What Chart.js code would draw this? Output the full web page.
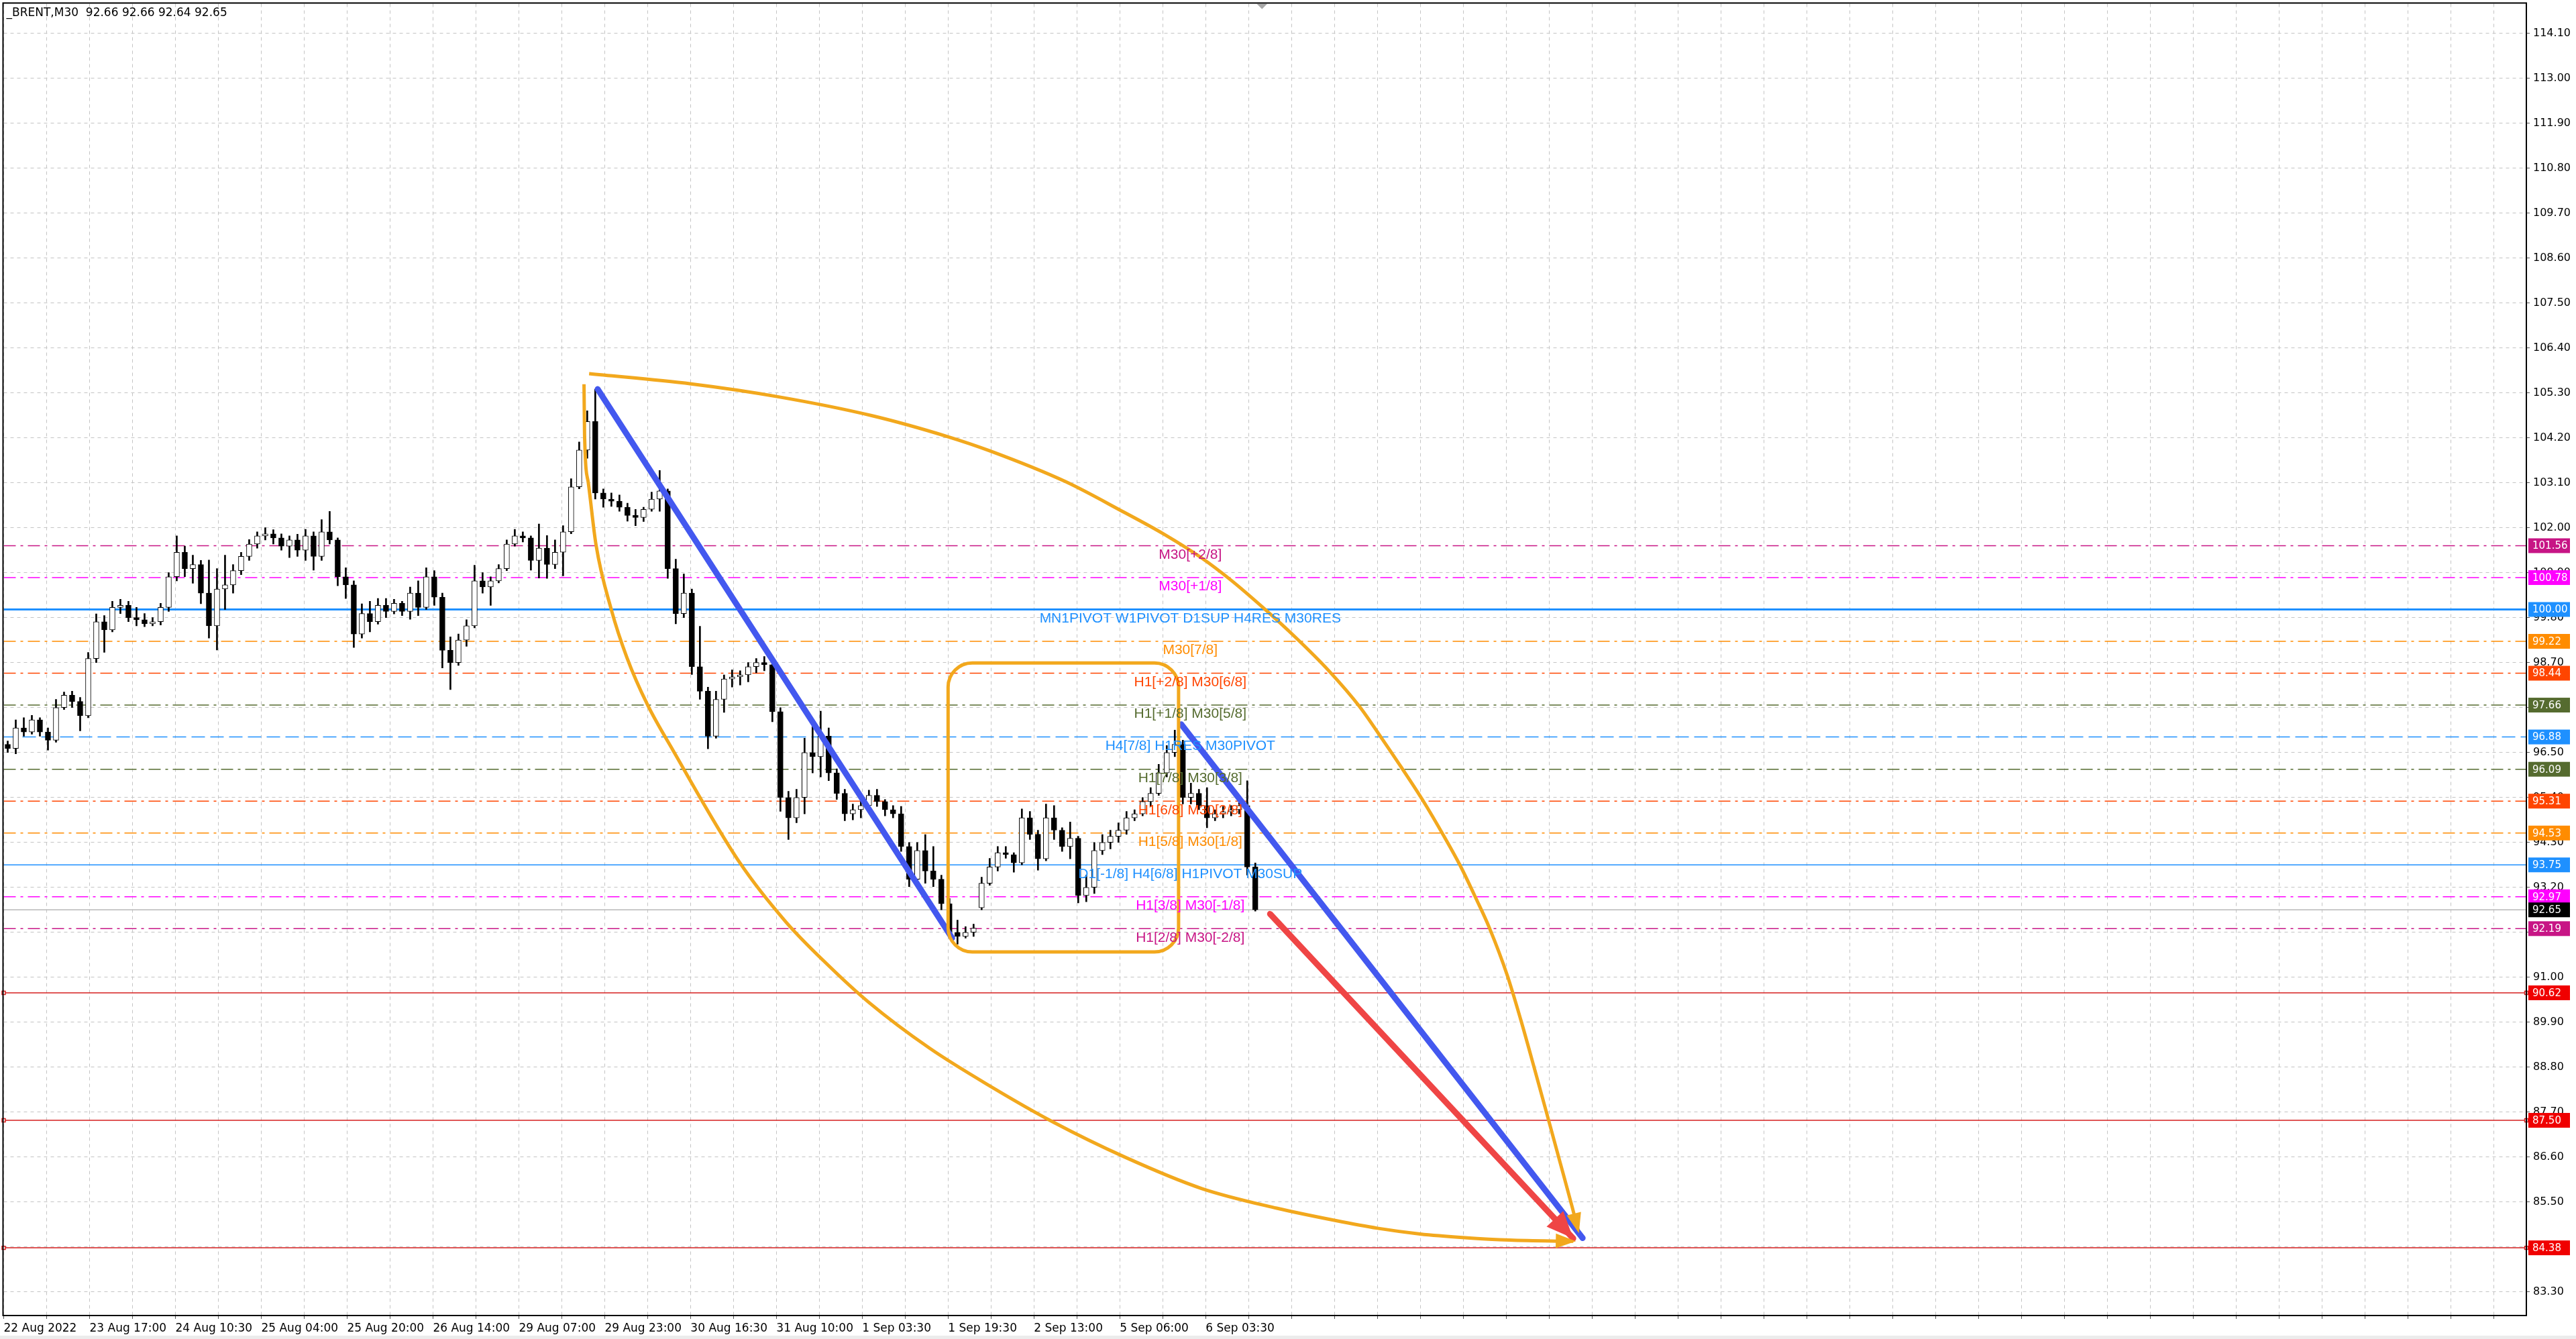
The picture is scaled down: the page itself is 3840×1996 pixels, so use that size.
<!DOCTYPE html>
<html>
<head>
  <title>_BRENT,M30</title>
  <script src="https://cdn.jsdelivr.net/npm/chart.js"></script>
  <style>
    html, body { margin: 0; padding: 0; background: #fff; overflow: hidden; }
    canvas { display: block; }
  </style>
</head>
<body>
  <canvas id="chart" width="3840" height="1996"></canvas>
  <script>
    // price axis ticks and time labels (one time label every 32 M30 bars)
    const yTicks = [114.10, 113.00, 111.90, 110.80, 109.70, 108.60, 107.50, 106.40, 105.30, 104.20,
      103.10, 102.00, 100.90, 99.80, 98.70, 97.60, 96.50, 95.40, 94.30, 93.20, 92.10, 91.00,
      89.90, 88.80, 87.70, 86.60, 85.50, 84.40, 83.30];
    const timeLabels = ['22 Aug 2022', '23 Aug 17:00', '24 Aug 10:30', '25 Aug 04:00', '25 Aug 20:00',
      '26 Aug 14:00', '29 Aug 07:00', '29 Aug 23:00', '30 Aug 16:30', '31 Aug 10:00', '1 Sep 03:30',
      '1 Sep 19:30', '2 Sep 13:00', '5 Sep 06:00', '6 Sep 03:30'];

    // candles, each one covers 3 bars of the picture
    const opens = [96.70, 96.60, 97.10, 97.00, 97.30, 97.00, 96.80, 97.60, 97.90, 97.75,
      97.40, 98.80, 99.70, 99.50, 100.05, 100.10, 99.80, 99.75, 99.65, 99.70,
      100.05, 100.80, 101.40, 101.00, 101.10, 100.40, 99.60, 100.50, 100.60, 100.95,
      101.30, 101.60, 101.80, 101.85, 101.75, 101.55, 101.70, 101.45, 101.80, 101.30,
      101.90, 101.70, 100.80, 100.60, 99.40, 99.90, 99.70, 100.10, 99.95, 100.15,
      99.95, 100.40, 100.05, 100.80, 100.30, 99.00, 98.70, 99.25, 99.60, 100.70,
      100.55, 100.70, 101.00, 101.60, 101.80, 101.75, 101.20, 101.50, 101.10, 101.40,
      101.90, 103.00, 103.90, 104.60, 102.85, 102.70, 102.65, 102.50, 102.30, 102.25,
      102.45, 102.70, 102.90, 101.00, 99.90, 100.40, 98.60, 98.00, 96.90, 97.80,
      98.30, 98.35, 98.40, 98.60, 98.70, 98.65, 97.50, 95.40, 94.90, 95.40,
      96.50, 96.40, 96.90, 96.00, 95.50, 95.00, 95.10, 95.20, 95.45, 95.30,
      95.10, 95.00, 94.20, 93.40, 94.10, 93.60, 93.40, 92.80, 92.10, 92.00,
      92.10, 92.70, 93.30, 93.70, 94.05, 94.00, 93.80, 94.90, 94.50, 93.90,
      94.90, 94.60, 94.20, 94.40, 93.00, 93.20, 94.10, 94.30, 94.45, 94.60,
      94.90, 95.00, 95.30, 95.50, 96.00, 96.50, 96.70, 95.40, 95.50, 95.20,
      94.90, 95.00, 95.05, 95.10, 95.20, 93.70];
    const highs = [96.78, 97.30, 97.35, 97.41, 97.35, 97.10, 97.80, 97.98, 98.00, 97.85,
      98.95, 99.89, 99.85, 100.20, 100.25, 100.20, 100.05, 99.90, 99.80, 100.15,
      100.90, 101.80, 101.55, 101.33, 101.20, 101.21, 101.00, 101.33, 101.10, 101.40,
      101.71, 101.90, 102.00, 101.95, 101.85, 101.80, 101.84, 101.96, 101.90, 102.20,
      102.40, 101.75, 101.02, 100.70, 100.14, 100.20, 100.27, 100.27, 100.25, 100.20,
      100.55, 100.70, 101.02, 100.95, 100.40, 99.33, 99.40, 99.75, 101.08, 100.90,
      100.80, 101.10, 101.70, 101.96, 101.90, 101.80, 102.09, 101.81, 101.70, 102.05,
      103.20, 104.10, 104.86, 105.39, 102.95, 102.85, 102.80, 102.60, 102.45, 102.50,
      102.87, 103.40, 102.95, 101.23, 100.87, 100.50, 99.59, 98.10, 98.00, 98.40,
      98.52, 98.50, 98.70, 98.80, 98.85, 98.75, 97.60, 95.55, 95.60, 96.85,
      97.25, 97.51, 97.10, 96.10, 95.60, 95.24, 95.30, 95.58, 95.60, 95.35,
      95.20, 95.18, 94.30, 94.30, 94.49, 94.20, 93.50, 92.93, 92.40, 92.24,
      92.30, 93.45, 93.91, 94.20, 94.20, 94.05, 95.12, 95.06, 94.60, 95.24,
      95.20, 94.66, 94.80, 94.45, 93.50, 94.30, 94.49, 94.60, 94.78, 95.06,
      95.10, 95.40, 95.64, 96.21, 96.67, 97.05, 96.80, 95.75, 95.60, 95.64,
      95.10, 95.18, 95.20, 95.30, 95.81, 93.80];
    const lows = [96.50, 96.47, 96.90, 96.95, 96.90, 96.56, 96.75, 97.55, 97.60, 97.03,
      97.35, 98.70, 98.95, 99.45, 99.90, 99.70, 99.60, 99.58, 99.60, 99.62,
      99.95, 100.70, 100.80, 100.64, 100.14, 99.30, 99.01, 100.00, 100.40, 100.85,
      101.20, 101.50, 101.70, 101.60, 101.45, 101.27, 101.30, 101.20, 100.96, 101.20,
      101.60, 100.58, 100.27, 99.07, 99.30, 99.45, 99.64, 99.80, 99.89, 99.85,
      99.76, 99.85, 100.00, 100.10, 98.57, 98.04, 98.63, 99.10, 99.55, 100.40,
      100.10, 100.65, 100.95, 101.55, 101.65, 100.96, 100.77, 100.76, 101.00, 100.82,
      101.85, 102.95, 103.70, 102.70, 102.50, 102.52, 102.40, 102.16, 102.05, 102.15,
      102.40, 102.40, 100.76, 99.65, 99.80, 98.41, 97.80, 96.59, 96.85, 97.48,
      98.10, 98.15, 98.23, 98.45, 98.50, 97.25, 95.06, 94.37, 94.78, 95.00,
      96.00, 95.90, 95.81, 95.35, 94.83, 94.85, 94.90, 95.10, 95.18, 94.95,
      94.90, 94.08, 93.22, 93.20, 93.30, 93.22, 92.65, 91.96, 91.81, 91.96,
      92.00, 92.65, 93.25, 93.60, 93.91, 93.57, 93.75, 94.37, 93.62, 93.85,
      94.37, 94.08, 93.90, 92.82, 92.85, 93.05, 94.00, 94.14, 94.30, 94.50,
      94.83, 94.95, 95.18, 95.45, 95.90, 96.40, 95.24, 95.24, 95.10, 94.66,
      94.83, 94.90, 94.95, 95.00, 93.50, 92.62];
    const closes = [96.60, 97.10, 97.00, 97.30, 97.00, 96.80, 97.60, 97.90, 97.75, 97.40,
      98.80, 99.70, 99.50, 100.05, 100.10, 99.80, 99.75, 99.65, 99.70, 100.05,
      100.80, 101.40, 101.00, 101.10, 100.40, 99.60, 100.50, 100.60, 100.95, 101.30,
      101.60, 101.80, 101.85, 101.75, 101.55, 101.70, 101.45, 101.80, 101.30, 101.90,
      101.70, 100.80, 100.60, 99.40, 99.90, 99.70, 100.10, 99.95, 100.15, 99.95,
      100.40, 100.05, 100.80, 100.30, 99.00, 98.70, 99.25, 99.60, 100.70, 100.55,
      100.70, 101.00, 101.60, 101.80, 101.75, 101.20, 101.50, 101.10, 101.40, 101.90,
      103.00, 103.90, 104.60, 102.85, 102.70, 102.65, 102.50, 102.30, 102.25, 102.45,
      102.70, 102.90, 101.00, 99.90, 100.40, 98.60, 98.00, 96.90, 97.80, 98.30,
      98.35, 98.40, 98.60, 98.70, 98.65, 97.50, 95.40, 94.90, 95.40, 96.50,
      96.40, 96.90, 96.00, 95.50, 95.00, 95.10, 95.20, 95.45, 95.30, 95.10,
      95.00, 94.20, 93.40, 94.10, 93.60, 93.40, 92.80, 92.10, 92.00, 92.10,
      92.20, 93.30, 93.70, 94.05, 94.00, 93.80, 94.90, 94.50, 93.90, 94.90,
      94.60, 94.20, 94.40, 93.00, 93.20, 94.10, 94.30, 94.45, 94.60, 94.90,
      95.00, 95.30, 95.50, 96.00, 96.50, 96.70, 95.40, 95.50, 95.20, 94.90,
      95.00, 95.05, 95.10, 95.20, 93.70, 92.65];

    // horizontal levels and their captions
    const levelValues = [101.56, 100.78, 100.00, 99.22, 98.44, 97.66, 96.88, 96.09, 95.31, 94.53, 93.75, 92.97, 92.19];
    const levelLabels = ['M30[+2/8]', 'M30[+1/8]', 'MN1PIVOT W1PIVOT D1SUP H4RES M30RES', 'M30[7/8]',
      'H1[+2/8] M30[6/8]', 'H1[+1/8] M30[5/8]', 'H4[7/8] H1RES M30PIVOT', 'H1[7/8] M30[3/8]',
      'H1[6/8] M30[2/8]', 'H1[5/8] M30[1/8]', 'D1[-1/8] H4[6/8] H1PIVOT M30SUP',
      'H1[3/8] M30[-1/8]', 'H1[2/8] M30[-2/8]'];
    const redLevels = [90.62, 87.50, 84.38];
    const bidPrice = 92.65;
    const headerText = '_BRENT,M30  92.66 92.66 92.64 92.65';

    // drawn objects, as [bar, price]
    const trendA = [[221.4, 105.39], [353.5, 91.96]];
    const trendB = [[438.9, 97.19], [588.5, 84.62]];
    const redArrow = [[472, 92.55], [585, 84.61]];
    const upperArc = [[218.2, 105.77], [256.2, 105.52], [288.2, 105.21], [323.75, 104.74], [351.8, 104.23],
      [367.6, 103.88], [395.7, 103.13], [416.7, 102.41], [432.5, 101.84], [446.5, 101.26], [457.0, 100.74],
      [469.3, 100.05], [481.6, 99.31], [493.9, 98.50], [505.4, 97.62], [513.5, 96.86], [520.4, 96.19],
      [528.75, 95.35], [537.1, 94.42], [542.9, 93.73], [548.75, 92.93], [553.75, 92.21], [560.4, 91.05],
      [565.4, 89.97], [570.4, 88.80], [576.25, 87.40], [580.4, 86.40], [584.6, 85.38], [587.1, 84.74]];
    const lowerArc = [[216.3, 105.51], [216.5, 104.28], [217.9, 103.10], [220.75, 101.59], [226.5, 99.99],
      [232.25, 98.83], [239.95, 97.67], [249.5, 96.55], [274.4, 93.80], [291.6, 92.35], [306.9, 91.32],
      [322.2, 90.40], [345.2, 89.26], [368.1, 88.32], [391.1, 87.46], [417.9, 86.60], [446.6, 85.83],
      [474.5, 85.35], [496.25, 85.05], [512, 84.86], [527.9, 84.72], [544.6, 84.63], [561.25, 84.57],
      [585, 84.54]];
    const box = [352, 437.9, 98.69, 91.62]; // left bar, right bar, top price, bottom price

    // styles
    const xMax = 940.25, yMin = 82.724, yMax = 114.822;
    const labelBar = 442.25;
    const DD = [18, 7, 4, 7], DASH = [20, 8];
    const levelColors = ['#C71585', '#FF00FF', '#1E90FF', '#FF8C00', '#FF4500', '#556B2F', '#1E90FF',
      '#556B2F', '#FF4500', '#FF8C00', '#1E90FF', '#FF00FF', '#C71585'];
    const levelDash = [DD, DD, [], DD, DD, DD, DASH, DD, DD, DD, [], DD, DD];
    const levelWidth = [1.5, 1.5, 3, 1.5, 1.5, 1.5, 1.5, 1.5, 1.5, 1.5, 1.5, 1.5, 1.5];
    const orange = '#F2A81D', blue = '#4358EF', red = '#EF4545';

    const pts = arr => arr.map(p => ({x: p[0], y: p[1]}));
    const candleX = i => 1.5 + 3 * i;

    const datasets = [];
    datasets.push({type: 'line', data: pts(trendA), borderColor: blue, borderWidth: 9, borderCapStyle: 'round', pointRadius: 0, order: 0});
    datasets.push({type: 'line', data: pts(trendB), borderColor: blue, borderWidth: 9, borderCapStyle: 'round', pointRadius: 0, order: 0});
    datasets.push({type: 'line', data: pts(redArrow), borderColor: red, borderWidth: 9, borderCapStyle: 'round', pointRadius: 0, order: 0});
    datasets.push({type: 'line', data: pts(upperArc), borderColor: orange, borderWidth: 5, cubicInterpolationMode: 'monotone', pointRadius: 0, order: 1});
    datasets.push({type: 'line', data: pts(lowerArc), borderColor: orange, borderWidth: 5, cubicInterpolationMode: 'monotone', pointRadius: 0, order: 1});

    datasets.push({
      type: 'bar', grouped: false, order: 2,
      data: opens.map((o, i) => ({x: candleX(i), y: [Math.min(o, closes[i]), Math.max(o, closes[i])]})),
      backgroundColor: opens.map((o, i) => closes[i] >= o ? '#ffffff' : '#000000'),
      borderColor: '#000', borderWidth: 1, borderSkipped: false, barThickness: 8, minBarLength: 2
    });
    datasets.push({
      type: 'bar', grouped: false, order: 3,
      data: highs.map((h, i) => ({x: candleX(i), y: [lows[i], h]})),
      backgroundColor: '#000', barThickness: 2
    });

    levelValues.forEach((v, i) => datasets.push({
      type: 'line', data: [{x: 0, y: v}, {x: xMax, y: v}], borderColor: levelColors[i],
      borderWidth: levelWidth[i], borderDash: levelDash[i], pointRadius: 0, order: 4
    }));
    redLevels.forEach(v => datasets.push({
      type: 'line', data: [{x: 0, y: v}, {x: xMax, y: v}], borderColor: '#D61E1E', borderWidth: 1.5,
      pointStyle: 'rect', pointRadius: 3.5, pointBackgroundColor: '#fff', pointBorderColor: '#D61E1E',
      pointBorderWidth: 1.5, clip: false, order: 4
    }));
    datasets.push({type: 'line', data: [{x: 0, y: bidPrice}, {x: xMax, y: bidPrice}], borderColor: '#B8B8B8', borderWidth: 1.5, pointRadius: 0, order: 4});

    // price tags on the right axis
    const tagValues = levelValues.concat([bidPrice], redLevels);
    const tagColors = levelColors.concat(['#000000', '#F00000', '#F00000', '#F00000']);

    function arrowHead(ctx, x0, y0, x1, y1, len, half, color) {
      const a = Math.atan2(y1 - y0, x1 - x0);
      ctx.fillStyle = color;
      ctx.beginPath();
      ctx.moveTo(x1, y1);
      ctx.lineTo(x1 - len * Math.cos(a) + half * Math.sin(a), y1 - len * Math.sin(a) - half * Math.cos(a));
      ctx.lineTo(x1 - len * Math.cos(a) - half * Math.sin(a), y1 - len * Math.sin(a) + half * Math.cos(a));
      ctx.closePath();
      ctx.fill();
    }

    const overlay = {
      id: 'overlay',
      beforeDraw(chart) {
        const {ctx, width, height} = chart;
        ctx.save();
        ctx.fillStyle = '#fff';
        ctx.fillRect(0, 0, width, height);
        ctx.fillStyle = '#ececec';
        ctx.fillRect(0, height - 5, width, 5);
        ctx.restore();
      },
      afterDatasetsDraw(chart) {
        const {ctx, chartArea: a, scales: {x, y}} = chart;
        ctx.save();
        ctx.beginPath();
        ctx.rect(a.left, a.top, a.right - a.left, a.bottom - a.top);
        ctx.clip();
        // rounded rectangle
        const bl = x.getPixelForValue(box[0]), br = x.getPixelForValue(box[1]);
        const bt = y.getPixelForValue(box[2]), bb = y.getPixelForValue(box[3]);
        ctx.strokeStyle = orange;
        ctx.lineWidth = 5;
        ctx.beginPath();
        ctx.roundRect(bl, bt, br - bl, bb - bt, 36);
        ctx.stroke();
        // arrow heads
        const px = p => [x.getPixelForValue(p[0]), y.getPixelForValue(p[1])];
        let p0 = px(redArrow[0]), p1 = px(redArrow[1]);
        arrowHead(ctx, p0[0], p0[1], p1[0], p1[1], 40, 17, red);
        p0 = px(upperArc[upperArc.length - 2]); p1 = px(upperArc[upperArc.length - 1]);
        arrowHead(ctx, p0[0], p0[1], p1[0], p1[1], 30, 11, orange);
        p0 = px(lowerArc[lowerArc.length - 2]); p1 = px(lowerArc[lowerArc.length - 1]);
        arrowHead(ctx, p0[0], p0[1], p1[0] + 4, p1[1], 30, 11, orange);
        // level captions
        ctx.font = '21px "Liberation Sans", Arial, sans-serif';
        ctx.textAlign = 'center';
        ctx.textBaseline = 'top';
        levelValues.forEach((v, i) => {
          ctx.fillStyle = levelColors[i];
          ctx.fillText(levelLabels[i], x.getPixelForValue(labelBar), y.getPixelForValue(v) + 3);
        });
        // chart shift marker
        const sx = x.getPixelForValue(469);
        ctx.fillStyle = '#a8a8a8';
        ctx.beginPath();
        ctx.moveTo(sx - 8, a.top);
        ctx.lineTo(sx + 8, a.top);
        ctx.lineTo(sx, a.top + 8);
        ctx.closePath();
        ctx.fill();
        ctx.restore();
      },
      afterDraw(chart) {
        const {ctx, chartArea: a, scales: {y}} = chart;
        ctx.save();
        // frame
        ctx.strokeStyle = '#000';
        ctx.lineWidth = 2;
        ctx.strokeRect(a.left - 1, a.top - 1, a.right - a.left + 1, a.bottom - a.top + 1);
        // tags
        ctx.font = '15px "DejaVu Sans", sans-serif';
        ctx.textAlign = 'left';
        ctx.textBaseline = 'middle';
        tagValues.forEach((v, i) => {
          const ty = y.getPixelForValue(v);
          ctx.fillStyle = tagColors[i];
          ctx.fillRect(a.right + 3, ty - 11, 62, 22);
          ctx.fillStyle = '#fff';
          ctx.fillText(v.toFixed(2), a.right + 9, ty + 1);
        });
        // header
        ctx.fillStyle = '#000';
        ctx.font = '17px "DejaVu Sans", sans-serif';
        ctx.textBaseline = 'top';
        ctx.fillText(headerText, a.left + 4, a.top + 6);
        ctx.restore();
      }
    };

    Chart.defaults.color = '#000';
    Chart.defaults.font.family = '"DejaVu Sans", sans-serif';
    Chart.defaults.font.size = 16;

    new Chart(document.getElementById('chart'), {
      type: 'bar',
      data: {datasets: datasets},
      plugins: [overlay],
      options: {
        responsive: false,
        devicePixelRatio: 1,
        animation: false,
        layout: {padding: {left: 5, top: 4, right: 0, bottom: 0}},
        plugins: {legend: {display: false}, tooltip: {enabled: false}},
        scales: {
          x: {
            type: 'linear', min: 0, max: xMax, offset: false,
            grid: {color: '#c4c4c4', lineWidth: 1, offset: false, tickLength: 5, tickColor: '#555'},
            border: {display: false, dash: [5, 5]},
            ticks: {
              autoSkip: false, maxRotation: 0, minRotation: 0, align: 'start', padding: 4,
              font: {size: 17},
              callback: v => (v % 32 === 0 && v / 32 < timeLabels.length) ? timeLabels[v / 32] : ''
            },
            afterBuildTicks: s => {
              const t = [];
              for (let b = 0; b <= xMax; b += 16) t.push({value: b});
              s.ticks = t;
            },
            afterFit: s => { s.height = 35; s.paddingLeft = 0; s.paddingRight = 0; }
          },
          y: {
            type: 'linear', position: 'right', min: yMin, max: yMax,
            grid: {color: '#c4c4c4', lineWidth: 1, tickLength: 5, tickColor: '#555'},
            border: {display: false, dash: [5, 5]},
            ticks: {padding: 5, callback: v => v.toFixed(2)},
            afterBuildTicks: s => { s.ticks = yTicks.map(v => ({value: v})); },
            afterFit: s => { s.width = 74; s.paddingTop = 0; s.paddingBottom = 0; }
          }
        }
      }
    });
  </script>
</body>
</html>
